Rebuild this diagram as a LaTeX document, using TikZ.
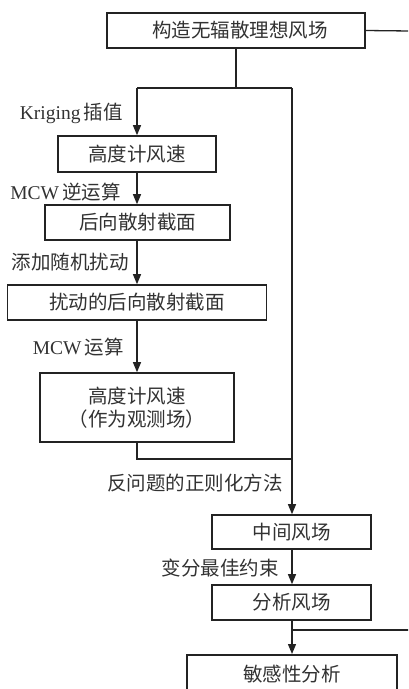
\documentclass[tikz,border=0pt]{standalone}
\usepackage{fontspec}
\setmainfont{Liberation Serif}
\newfontfamily\cjk{Noto Sans CJK SC}
\usetikzlibrary{arrows.meta}
\definecolor{ink}{RGB}{35,35,35}
\definecolor{txt}{RGB}{50,50,50}
\tikzset{
  box/.style={draw=ink, line width=1.6pt, fill=white, inner sep=0pt, align=center,
    text=txt, font=\fontsize{19.5}{23.5}\selectfont\cjk},
  lbl/.style={anchor=east, inner sep=0pt, text=txt, font=\fontsize{19.5}{23.5}\selectfont},
  conn/.style={draw=ink, line width=1.3pt},
  arr/.style={conn, -{Triangle[length=10pt,width=8pt]}}
}
\newcommand{\cn}[1]{{\cjk #1}}
\begin{document}
\begin{tikzpicture}[x=1pt,y=-1pt]
\useasboundingbox (0,0) rectangle (408,689);
\clip (0,0) rectangle (408,689);
\node[box, minimum width=258pt, minimum height=35pt] (b1) at (236,30.5) {\hspace*{8pt}构造无辐散理想风场};
\node[box, minimum width=158pt, minimum height=36pt] (b2) at (137,154) {高度计风速};
\node[box, minimum width=185pt, minimum height=35pt] (b3) at (137.5,222.5) {后向散射截面};
\node[box, minimum width=259pt, minimum height=35pt] (b4) at (137,302.5) {扰动的后向散射截面};
\node[box, minimum width=194pt, minimum height=69pt] (b5) at (137,407.5) {高度计风速\\（作为观测场）};
\node[box, minimum width=159pt, minimum height=34pt] (b6) at (291.5,532) {中间风场};
\node[box, minimum width=159pt, minimum height=35pt] (b7) at (291.5,602.5) {分析风场};
\node[box, minimum width=210pt, minimum height=44pt, text depth=0pt, anchor=north] (b8) at (292,654) {\raisebox{8pt}{敏感性分析}};
\coordinate (j1) at (236,88);
\coordinate (jl) at (137,88);
\coordinate (jr) at (292,88);
\coordinate (jm) at (292,459);
\coordinate (e1) at (410,31);
\coordinate (j7) at (292,630);
\coordinate (e7) at (410,630);
\draw[conn] (b1.south) -- (j1);
\draw[conn] (b1.east) -- (e1);
\draw[conn] (jl) -- (jr);
\draw[arr] (jl) -- (b2.north);
\draw[arr] (jr) -- (jr |- b6.north);
\draw[arr] (b2.south) -- (b3.north -| b2.south);
\draw[arr] (b3.south -| b2.south) -- (b4.north -| b2.south);
\draw[arr] (b4.south) -- (b5.north);
\draw[conn] (b5.south) |- (jm);
\draw[arr] (b6.south -| jr) -- (b7.north -| jr);
\draw[arr] (b7.south -| jr) -- (b8.north -| jr);
\draw[conn] (j7) -- (e7);
\node[lbl] (l1) at (123,113) {Kriging\,\cn{插值}};
\node[lbl] (l2) at (121,192) {MCW\,\cn{逆运算}};
\node[lbl] (l3) at (129,262) {\cn{添加随机扰动}};
\node[lbl] (l4) at (124,347) {MCW\,\cn{运算}};
\node[lbl] (l5) at (283,483) {\cn{反问题的正则化方法}};
\node[lbl] (l6) at (279,568) {\cn{变分最佳约束}};
\end{tikzpicture}
\end{document}
